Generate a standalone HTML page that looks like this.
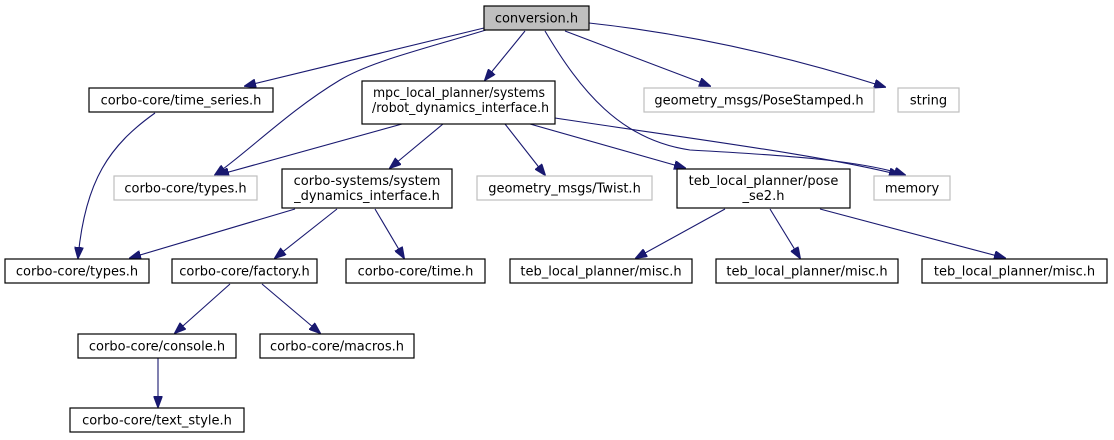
<!DOCTYPE html>
<html><head><meta charset="utf-8"><style>
html,body{margin:0;padding:0;background:#fff;width:1114px;height:440px;overflow:hidden}
svg{display:block}
text{font-family:"DejaVu Sans","Liberation Sans",sans-serif;font-size:13px;fill:#000}
.b{fill:#fff;stroke:#000;stroke-width:1.2}
.g{fill:#fff;stroke:#bfbfbf;stroke-width:1.2}
.e{fill:none;stroke:#191970;stroke-width:1.1;marker-end:url(#a)}
</style></head><body>
<svg width="1114" height="440" viewBox="0 0 1114 440">
<defs><marker id="a" markerWidth="12" markerHeight="9" refX="11" refY="4.5" orient="auto" markerUnits="userSpaceOnUse"><path d="M0,0 L12,4.5 L0,9 Z" fill="#191970" stroke="#191970"/></marker></defs>
<g>
<path class="e" d="M484,28 L245,86"/>
<path class="e" d="M486,30 C420,50 370,62 340,80 C290,110 250,150 215,175"/>
<path class="e" d="M525,31 L485,80"/>
<path class="e" d="M545,31 C580,90 620,140 690,150 C780,155 860,160 905,175"/>
<path class="e" d="M565,31 L710,86"/>
<path class="e" d="M589,23 C700,35 800,60 885,87"/>
<path class="e" d="M155,113 C110,145 85,180 78,258"/>
<path class="e" d="M402,124 L218,175"/>
<path class="e" d="M443,124 L390,168"/>
<path class="e" d="M505,124 L545,175"/>
<path class="e" d="M530,124 L685,168"/>
<path class="e" d="M555,118 C700,140 820,155 900,175"/>
<path class="e" d="M295,209 L130,258"/>
<path class="e" d="M337,209 L275,258"/>
<path class="e" d="M375,209 L404,258"/>
<path class="e" d="M725,209 L636,258"/>
<path class="e" d="M770,209 L800,258"/>
<path class="e" d="M820,209 L1005,258"/>
<path class="e" d="M230,284 L175,333"/>
<path class="e" d="M262,284 L320,333"/>
<path class="e" d="M158,358 L158,407"/>
</g>
<rect x="484" y="6" width="105" height="24" fill="#bfbfbf" stroke="#000" stroke-width="1.2"/>
<text x="536.5" y="22.5" text-anchor="middle">conversion.h</text>
<rect class="b" x="89" y="88" width="184" height="24"/><text x="181" y="104.5" text-anchor="middle">corbo-core/time_series.h</text>
<rect class="b" x="362" y="81" width="193" height="43"/><text x="373" y="97" textLength="172" lengthAdjust="spacingAndGlyphs">mpc_local_planner/systems</text><text x="372" y="112" textLength="177" lengthAdjust="spacingAndGlyphs">/robot_dynamics_interface.h</text>
<rect class="g" x="644" y="88" width="230" height="24"/><text x="759" y="104.5" text-anchor="middle">geometry_msgs/PoseStamped.h</text>
<rect class="g" x="898" y="88" width="61" height="24"/><text x="928.5" y="104.5" text-anchor="middle">string</text>
<rect class="g" x="114" y="176" width="143" height="24"/><text x="185.5" y="192.5" text-anchor="middle">corbo-core/types.h</text>
<rect class="b" x="282" y="169" width="170" height="39"/><text x="367" y="185" text-anchor="middle">corbo-systems/system</text><text x="367" y="200" text-anchor="middle">_dynamics_interface.h</text>
<rect class="g" x="477" y="176" width="175" height="24"/><text x="564.5" y="192.5" text-anchor="middle">geometry_msgs/Twist.h</text>
<rect class="b" x="677" y="169" width="173" height="39"/><text x="763.5" y="185" text-anchor="middle">teb_local_planner/pose</text><text x="763.5" y="200" text-anchor="middle">_se2.h</text>
<rect class="g" x="874" y="176" width="76" height="24"/><text x="912" y="192.5" text-anchor="middle">memory</text>
<rect class="b" x="5" y="259" width="144" height="24"/><text x="77" y="275.5" text-anchor="middle">corbo-core/types.h</text>
<rect class="b" x="172" y="259" width="145" height="24"/><text x="244.5" y="275.5" text-anchor="middle">corbo-core/factory.h</text>
<rect class="b" x="346" y="259" width="139" height="24"/><text x="415.5" y="275.5" text-anchor="middle">corbo-core/time.h</text>
<rect class="b" x="510" y="259" width="182" height="24"/><text x="601" y="275.5" text-anchor="middle">teb_local_planner/misc.h</text>
<rect class="b" x="716" y="259" width="182" height="24"/><text x="807" y="275.5" text-anchor="middle">teb_local_planner/misc.h</text>
<rect class="b" x="922" y="259" width="185" height="24"/><text x="1014.5" y="275.5" text-anchor="middle">teb_local_planner/misc.h</text>
<rect class="b" x="78" y="334" width="158" height="24"/><text x="157" y="350.5" text-anchor="middle">corbo-core/console.h</text>
<rect class="b" x="260" y="334" width="154" height="24"/><text x="337" y="350.5" text-anchor="middle">corbo-core/macros.h</text>
<rect class="b" x="70" y="408" width="174" height="24"/><text x="157" y="424.5" text-anchor="middle">corbo-core/text_style.h</text>
</svg>
</body></html>
